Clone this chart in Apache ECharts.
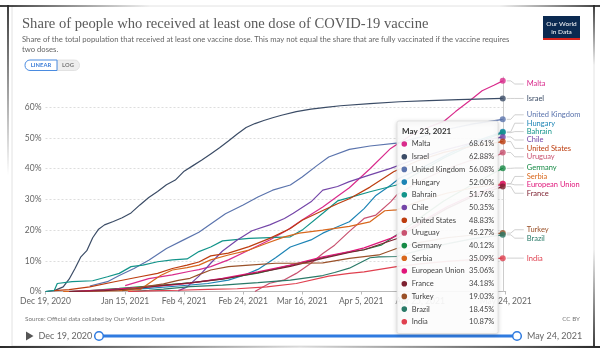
<!DOCTYPE html>
<html><head><meta charset="utf-8">
<script src="https://cdn.jsdelivr.net/npm/echarts@6/dist/echarts.min.js"></script>
<style>html,body{margin:0;padding:0;background:#fff}#c{width:600px;height:349px}</style>
</head><body><div id="c"></div><script>
// x values are days since 2020-12-19
const START = Date.UTC(2020, 11, 19);
const xTickDays = [0, 27, 47, 67, 87, 107, 127, 156];
const hoverDay = 155;
const endDay = 156;

const countries = ["Malta","Israel","United Kingdom","Hungary","Bahrain","Chile","United States","Uruguay","Germany","Serbia","European Union","France","Turkey","Brazil","India"];
const colors = ["#d92b8c","#3b4c66","#5b74ad","#1d84b5","#12948a","#7446a8","#bd3d0f","#c95270","#168a45","#d8671c","#e0157a","#7e2231","#9a5129","#2a7a68","#e0404f"];

const malta = [[27,1.9],[35,4.2],[43,5.4],[49,6.6],[52,7.1],[56,8.1],[62,10.3],[69,13.5],[76,16.8],[82,20],[87,23.3],[94,27.5],[99,31],[103,33.8],[110,40],[117,46.6],[124,51],[129,53.2],[135,55.4],[139,58.6],[144,62.3],[148,65.4],[152,67.2],[155,68.61]];
const israel = [[0,0],[3,0.3],[6,1.5],[8,4],[10,7.5],[12,11.3],[14,13.3],[16,17.5],[18,20.3],[20,21.7],[23,22.8],[26,24],[29,25.6],[32,28.2],[35,30.6],[38,32.6],[41,34.8],[44,36.3],[47,39.2],[50,41],[53,42.8],[56,44.8],[59,46.8],[62,49],[65,51.3],[68,53.4],[71,54.7],[74,55.7],[77,56.6],[80,57.4],[85,58.6],[90,59.4],[95,60],[100,60.5],[110,61.2],[120,61.8],[130,62.2],[140,62.5],[155,62.88]];
const uk = [[15,1.8],[21,3.2],[25,5.2],[30,7.5],[35,10.2],[41,14],[47,16.9],[52,19.3],[56,22],[61,25.3],[67,28.2],[72,30.8],[77,33],[83,34.7],[87,37.3],[92,41],[96,43.8],[103,46.3],[110,47.4],[119,48.3],[127,50.3],[135,52.6],[145,54.6],[155,56.08]];
const hungary = [[7,0],[15,0.2],[25,0.5],[35,1],[45,1.8],[55,2.6],[62,3.7],[67,5.2],[72,7.2],[78,11],[83,14.5],[90,16.8],[94,19],[99,21.1],[103,22.7],[108,27],[112,31.3],[117,34.6],[120,36.9],[128,40.5],[137,45],[146,49],[155,52.0]];
const bahrain = [[0,0],[3,0.4],[4,2.6],[9,3.2],[16,3.5],[21,4.8],[25,5.9],[29,8.1],[33,8.6],[38,9.7],[43,10.3],[48,10.6],[52,13],[56,14.5],[60,16.5],[69,17.3],[83,17.8],[87,20],[94,25.5],[99,29.5],[103,30.6],[110,32.5],[119,34.7],[127,39],[135,43.5],[145,48],[155,51.76]];
const chile = [[45,0.2],[48,1.5],[52,5],[56,9.2],[60,13.2],[65,16.8],[70,19.8],[76,21.7],[81,23.8],[84,25.5],[90,29.2],[94,33],[99,34.2],[103,35.8],[110,38],[117,40.1],[125,43],[135,46],[145,48.5],[155,50.35]];
const usa = [[3,0.3],[8,0.6],[15,1.5],[23,3.1],[32,4.8],[38,5.9],[43,7.5],[48,8.6],[52,9.6],[56,11.6],[62,12.5],[69,14.6],[76,17.3],[83,20.5],[87,23.2],[94,26.4],[99,28.6],[103,30.2],[110,34],[118,39],[126,42.5],[135,45.3],[145,47.4],[155,48.83]];
const uruguay = [[71,0],[72,0.6],[76,2.7],[81,3.8],[85,5.9],[90,9.2],[94,12.4],[98,15.1],[101,17.8],[103,19.6],[108,23.8],[112,24.9],[117,29.2],[119,31.4],[127,36],[136,40],[145,43],[153,44.2],[155,45.27]];
const germany = [[8,0],[15,0.3],[25,1],[35,1.8],[45,2.5],[49,2.8],[60,4.1],[72,6],[83,8.5],[94,11],[103,12.9],[108,13.6],[114,15.2],[119,18.4],[127,24],[135,29.5],[145,35],[155,40.12]];
const serbia = [[6,0],[15,0.1],[25,0.3],[32,0.6],[35,2.6],[39,5.2],[43,7],[48,7.8],[52,8.6],[56,10.3],[62,11.9],[69,13.5],[75,15.7],[81,17.8],[86,19],[94,20],[103,21.2],[110,22.7],[115,26.3],[119,26.6],[127,29.5],[136,32],[145,33.8],[155,35.09]];
const eu = [[8,0],[20,0.5],[35,1.5],[45,2.3],[49,2.7],[60,4.3],[72,6.4],[83,8.6],[94,11.3],[103,13],[108,14.2],[117,17.3],[119,18.2],[127,22.5],[136,27.5],[145,31.5],[155,35.06]];
const france = [[8,0],[20,0.3],[30,0.9],[40,2],[49,2.8],[60,4],[72,6.1],[83,8.2],[94,10.8],[103,12.7],[108,13.6],[119,17.2],[127,22],[136,27],[145,31],[155,34.18]];
const turkey = [[26,0.3],[30,1],[35,1.8],[40,2.5],[45,3.6],[49,4.3],[52,5.5],[56,7],[62,8.1],[69,8.6],[78,9.2],[87,9.2],[94,9.3],[103,10.8],[113,11.9],[119,14],[127,16],[136,17.5],[145,18.4],[155,19.03]];
const brazil = [[29,0],[35,0.4],[40,0.8],[49,1.6],[60,2.1],[72,2.9],[83,3.7],[94,5.2],[98,6.2],[103,7.6],[110,11],[113,11.3],[119,11.4],[127,13.5],[136,15.5],[145,17.2],[155,18.45]];
const india = [[28,0],[35,0.2],[45,0.4],[55,0.7],[65,0.9],[75,1.5],[85,2.6],[96,5],[103,5.9],[108,6.4],[119,8.1],[127,9],[136,9.8],[145,10.4],[155,10.87]];

const seriesData = [malta, israel, uk, hungary, bahrain, chile, usa, uruguay, germany, serbia, eu, france, turkey, brazil, india];

const MONTHS = ["Jan","Feb","Mar","Apr","May","Jun","Jul","Aug","Sep","Oct","Nov","Dec"];
function dayLabel(d){ const t = new Date(START + d*86400000); return MONTHS[t.getUTCMonth()] + " " + t.getUTCDate() + ", " + t.getUTCFullYear(); }

const FONT = "Lato, 'Noto Sans', sans-serif";
const chart = echarts.init(document.getElementById('c'), null, {renderer:'canvas'});

const lineSeries = countries.map((n,i)=>({
  name:n, type:'line', data:seriesData[i], showSymbol:false, symbol:'none',
  lineStyle:{width:1.2,color:colors[i]}, itemStyle:{color:colors[i]}, z:2, silent:true
}));
const lastVals = seriesData.map(s=>s[s.length-1][1]);
const markerSeries = {
  type:'scatter', symbolSize:6, z:5, silent:true,
  data: countries.map((n,i)=>({value:[hoverDay,lastVals[i]], itemStyle:{color:colors[i]}})),
  markLine:{silent:true, symbol:'none', label:{show:false}, lineStyle:{color:'#ccc',width:1,type:'solid'}, data:[{xAxis:hoverDay}]}
};

chart.setOption({
  animation:false,
  grid:{left:45.5,right:94.3,top:76.6,bottom:57.5},
  xAxis:{type:'value',min:0,max:endDay,
    axisLine:{show:true,lineStyle:{color:'#bbb'}},
    axisTick:{show:true,customValues:xTickDays,length:3,lineStyle:{color:'#bbb'}},
    axisLabel:{customValues:xTickDays,formatter:v=>dayLabel(v),color:'#666',fontFamily:FONT,fontSize:8.5,margin:5},
    splitLine:{show:false}},
  yAxis:{type:'value',min:0,max:70,interval:10,
    axisLine:{show:false},axisTick:{show:false},
    axisLabel:{formatter:'{value}%',color:'#666',fontFamily:FONT,fontSize:8.5,showMaxLabel:false,margin:4},
    splitLine:{show:true,showMaxLine:false,lineStyle:{color:'#ddd',type:[2,2]}}},
  series: lineSeries.concat([markerSeries])
});

// ----- derived overlay: end labels with connectors, tooltip -----
const g = [];
const pts = countries.map((n,i)=>{ const p = chart.convertToPixel({xAxisIndex:0,yAxisIndex:0},[hoverDay,lastVals[i]]); return {i, x:p[0], y:p[1]}; });
const GAP = 8.4, MINY = 84;
let groups = pts.slice().sort((a,b)=>a.y-b.y).map(p=>({items:[p]}));
function grCenter(gr){ return gr.items.reduce((s,p)=>s+p.y,0)/gr.items.length; }
function grTop(gr){ return Math.max(grCenter(gr) - (gr.items.length-1)*GAP/2, MINY); }
let changed = true;
while(changed){
  changed=false;
  for(let k=1;k<groups.length;k++){
    const a=groups[k-1], b=groups[k];
    const aBottom = grTop(a) + (a.items.length-1)*GAP;
    if(grTop(b) - aBottom < GAP){ groups.splice(k-1,2,{items:a.items.concat(b.items)}); changed=true; break; }
  }
}
groups.forEach(gr=>{ const t=grTop(gr); gr.items.forEach((p,k)=>{ p.ly = t + k*GAP; }); });
pts.forEach(p=>{
  const mx=p.x, my=p.y, ly=p.ly;
  g.push({type:'polyline', z:4, shape:{points:[[mx+4,my],[mx+8,my],[mx+12,ly],[mx+21,ly]]}, style:{stroke:'#c4c4c4',lineWidth:0.8,fill:null}});
  g.push({type:'text', z:4, style:{text:countries[p.i], x:mx+24, y:ly, fill:colors[p.i], font:'7.5px '+FONT, textAlign:'left', textVerticalAlign:'middle'}});
});

// tooltip box
const order = countries.map((n,i)=>i).sort((a,b)=>lastVals[b]-lastVals[a]);
const TX=397, TY=121, TW=101, ROW=12.7;
const TH = 22 + order.length*ROW;
const TZ = 60;
g.push({type:'rect', z:TZ, shape:{x:TX,y:TY,width:TW,height:TH,r:2}, style:{fill:'rgba(255,255,255,0.92)',stroke:'#ddd',lineWidth:0.8,shadowBlur:4,shadowColor:'rgba(0,0,0,0.18)',shadowOffsetY:1}});
g.push({type:'text', z:TZ+1, style:{text:dayLabel(hoverDay), x:TX+5, y:TY+10.5, fill:'#333', font:'bold 8px '+FONT, textVerticalAlign:'middle'}});
order.forEach((i,k)=>{
  const y = TY+23 + k*ROW;
  g.push({type:'circle', z:TZ+1, shape:{cx:TX+7.3,cy:y,r:2.8}, style:{fill:colors[i]}});
  g.push({type:'text', z:TZ+1, style:{text:countries[i], x:TX+14.7, y:y, fill:'#444', font:'7.5px '+FONT, textVerticalAlign:'middle'}});
  g.push({type:'text', z:TZ+1, style:{text:lastVals[i].toFixed(2)+'%', x:TX+97.3, y:y, fill:'#444', font:'7.5px '+FONT, textAlign:'right', textVerticalAlign:'middle'}});
});

// header
g.push({type:'text', z:10, style:{text:'Share of people who received at least one dose of COVID-19 vaccine', x:22, y:24, fill:'#5b5b5b', font:"14.6px 'Liberation Serif', serif", textVerticalAlign:'middle'}});
g.push({type:'text', z:10, style:{text:'Share of the total population that received at least one vaccine dose. This may not equal the share that are fully vaccinated if the vaccine requires', x:22, y:39.5, fill:'#666', font:'7.7px '+FONT, textVerticalAlign:'middle'}});
g.push({type:'text', z:10, style:{text:'two doses.', x:22, y:50, fill:'#666', font:'7.7px '+FONT, textVerticalAlign:'middle'}});
// logo
g.push({type:'rect', z:10, shape:{x:543,y:16,width:37,height:24}, style:{fill:'#0b2a51'}});
g.push({type:'rect', z:11, shape:{x:543,y:38,width:37,height:2}, style:{fill:'#d8241e'}});
g.push({type:'text', z:11, style:{text:'Our World', x:561.5, y:23.5, fill:'#fff', font:'6.5px '+FONT, textAlign:'center', textVerticalAlign:'middle'}});
g.push({type:'text', z:11, style:{text:'in Data', x:561.5, y:31.5, fill:'#fff', font:'6.5px '+FONT, textAlign:'center', textVerticalAlign:'middle'}});
// buttons
g.push({type:'rect', z:10, shape:{x:57,y:60,width:22.5,height:10.5,r:[0,5,5,0]}, style:{fill:'#eee',stroke:'#ddd',lineWidth:0.8}});
g.push({type:'rect', z:11, shape:{x:25,y:60,width:32,height:10.5,r:[5,0,0,5]}, style:{fill:'#fff',stroke:'#4a8be0',lineWidth:1}});
g.push({type:'text', z:12, style:{text:'LINEAR', x:41, y:65.5, fill:'#3b7dd8', font:'bold 5.8px '+FONT, textAlign:'center', textVerticalAlign:'middle'}});
g.push({type:'text', z:12, style:{text:'LOG', x:68, y:65.5, fill:'#777', font:'bold 5.8px '+FONT, textAlign:'center', textVerticalAlign:'middle'}});
// footer
g.push({type:'text', z:10, style:{text:'Source: Official data collated by Our World in Data', x:25, y:318.5, fill:'#777', font:'6.3px '+FONT, textVerticalAlign:'middle'}});
g.push({type:'text', z:10, style:{text:'CC BY', x:580, y:318.5, fill:'#777', font:'6.3px '+FONT, textAlign:'right', textVerticalAlign:'middle'}});
// timeline
g.push({type:'polygon', z:10, shape:{points:[[26,331.5],[26,340.5],[33.5,336]]}, style:{fill:'#555'}});
g.push({type:'text', z:10, style:{text:dayLabel(0), x:38.5, y:336, fill:'#666', font:'9px '+FONT, textVerticalAlign:'middle'}});
g.push({type:'line', z:10, shape:{x1:99,y1:336,x2:517,y2:336}, style:{stroke:'#2f7be0',lineWidth:3}});
g.push({type:'circle', z:11, shape:{cx:99,cy:336,r:4.3}, style:{fill:'#fff',stroke:'#2f7be0',lineWidth:1.5}});
g.push({type:'circle', z:11, shape:{cx:517,cy:336,r:4.3}, style:{fill:'#fff',stroke:'#2f7be0',lineWidth:1.5}});
g.push({type:'text', z:10, style:{text:dayLabel(endDay), x:527, y:336, fill:'#666', font:'9px '+FONT, textVerticalAlign:'middle'}});
// frame (photo border)
const grad = (horiz,c1,c2)=>({type:'linear',x:0,y:0,x2:horiz?1:0,y2:horiz?0:1,colorStops:[{offset:0,color:c1},{offset:1,color:c2}]});
g.push({type:'rect', z:1, shape:{x:12,y:6,width:582,height:340}, style:{fill:null,stroke:'#e2e2e2',lineWidth:1}});
g.push({type:'rect', z:1, shape:{x:0,y:5,width:150,height:2}, style:{fill:grad(true,'rgba(40,40,40,0.9)','rgba(40,40,40,0)')}});
g.push({type:'rect', z:1, shape:{x:7,y:5,width:2,height:170}, style:{fill:grad(false,'rgba(40,40,40,0.9)','rgba(40,40,40,0)')}});
g.push({type:'rect', z:1, shape:{x:500,y:5,width:100,height:2}, style:{fill:grad(true,'rgba(40,40,40,0)','rgba(40,40,40,0.9)')}});
g.push({type:'rect', z:1, shape:{x:593,y:5,width:2,height:60}, style:{fill:grad(false,'rgba(40,40,40,0.9)','rgba(40,40,40,0)')}});
g.push({type:'rect', z:1, shape:{x:0,y:346,width:300,height:2}, style:{fill:grad(true,'rgba(30,30,30,0.95)','rgba(30,30,30,0.1)')}});
g.push({type:'rect', z:1, shape:{x:300,y:346,width:300,height:2}, style:{fill:grad(true,'rgba(30,30,30,0.1)','rgba(30,30,30,0.95)')}});
g.push({type:'rect', z:1, shape:{x:593,y:250,width:2,height:97}, style:{fill:grad(false,'rgba(40,40,40,0)','rgba(40,40,40,0.9)')}});

chart.setOption({graphic:{elements:g}});
</script></body></html>
